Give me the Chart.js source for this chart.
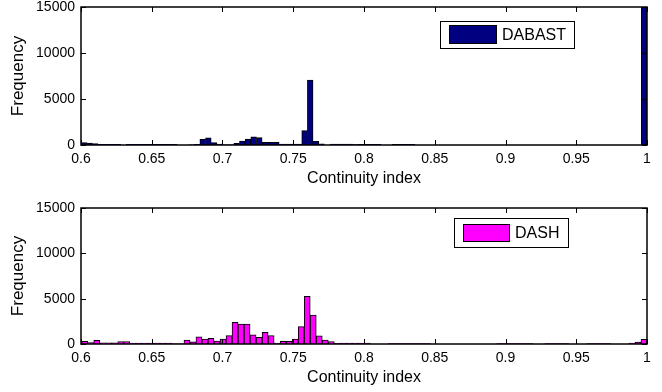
<!DOCTYPE html>
<html>
<head>
<meta charset="utf-8">
<script src="https://cdn.jsdelivr.net/npm/chart.js@4"></script>
<style>
  body { margin: 0; background: #fff; }
  .panel { width: 662px; height: 196px; }
  canvas { display: block; }
</style>
</head>
<body>
<div class="panel"><canvas id="topChart" width="662" height="196"></canvas></div>
<div class="panel"><canvas id="bottomChart" width="662" height="196"></canvas></div>
<script>
// histogram bins
var dabastBinStart = 0.6;
var dabastBinWidth = 0.004;
var dabastCounts = [
  250, 200, 150, 80, 80, 80, 80, 0, 80, 80,
  80, 80, 80, 80, 80, 80, 80, 0, 0, 20,
  70, 620, 780, 250, 100, 20, 20, 180, 430, 650,
  900, 800, 300, 300, 300, 100, 100, 100, 100, 1560,
  7070, 400, 140, 0, 100, 100, 100, 100, 50, 60,
  60, 60, 60, 0, 0, 60, 60, 60, 60, 0,
  0, 0, 0, 0, 0, 0, 0, 0, 0, 0,
  0, 0, 0, 0, 0, 0, 0, 0, 0, 0,
  0, 0, 0, 0, 0, 0, 0, 0, 0, 0,
  0, 0, 0, 0, 0, 0, 0, 0, 0, 15000
];

var dashBinStart = 0.6005;
var dashBinWidth = 0.00425;
var dashCounts = [
  300, 150, 400, 130, 130, 130, 280, 280, 100, 100,
  100, 100, 100, 100, 100, 20, 20, 440, 250, 800,
  550, 630, 330, 550, 920, 2400, 2200, 2200, 1000, 740,
  1300, 920, 110, 300, 300, 550, 1920, 5250, 3200, 900,
  440, 280, 80, 100, 100, 100, 100, 100, 0, 0,
  0, 60, 60, 60, 60, 60, 60, 60, 0, 0,
  0, 0, 0, 0, 0, 0, 0, 0, 0, 60,
  60, 60, 60, 60, 60, 0, 0, 60, 60, 60,
  60, 0, 0, 0, 60, 60, 60, 60, 0, 0,
  0, 100, 200, 520
];

var xTicks = [0.6, 0.65, 0.7, 0.75, 0.8, 0.85, 0.9, 0.95, 1];
var yTicks = [0, 5000, 10000, 15000];

var FONT = "'Liberation Sans', Arial, sans-serif";

function binPoints(start, width, counts) {
  var pts = [];
  for (var i = 0; i < counts.length; i++) {
    pts.push({ x: start + width * (i + 0.5), y: counts[i] });
  }
  return pts;
}

// matlab style box, inward ticks and legend
var matlabAxes = {
  id: 'matlabAxes',
  afterDatasetsDraw: function (chart, args, opts) {
    var ctx = chart.ctx;
    var a = chart.chartArea;
    var xs = chart.scales.x, ys = chart.scales.y;
    ctx.save();
    ctx.strokeStyle = '#000';
    ctx.lineWidth = 1;
    ctx.beginPath();
    xTicks.forEach(function (v) {
      var px = Math.round(xs.getPixelForValue(v)) + 0.5;
      ctx.moveTo(px, a.bottom); ctx.lineTo(px, a.bottom - 5);
      ctx.moveTo(px, a.top); ctx.lineTo(px, a.top + 5);
    });
    yTicks.forEach(function (v) {
      var py = Math.round(ys.getPixelForValue(v)) + 0.5;
      ctx.moveTo(a.left, py); ctx.lineTo(a.left + 5, py);
      ctx.moveTo(a.right, py); ctx.lineTo(a.right - 5, py);
    });
    ctx.stroke();
    ctx.lineWidth = 1.5;
    ctx.strokeRect(a.left, a.top, a.right - a.left, a.bottom - a.top);

    // legend box
    var ds = chart.data.datasets[0];
    var bx = a.left + opts.left, by = a.top + opts.top;
    ctx.fillStyle = '#fff';
    ctx.fillRect(bx, by, opts.width, opts.height);
    ctx.lineWidth = 1;
    ctx.strokeRect(bx + 0.5, by + 0.5, opts.width, opts.height);
    ctx.fillStyle = ds.backgroundColor;
    ctx.fillRect(bx + opts.swX, by + opts.swY, opts.swW, opts.swH);
    ctx.strokeRect(bx + opts.swX + 0.5, by + opts.swY + 0.5, opts.swW, opts.swH);
    ctx.fillStyle = '#000';
    ctx.font = '16px ' + FONT;
    ctx.textBaseline = 'middle';
    ctx.textAlign = 'left';
    ctx.fillText(ds.label, bx + opts.swX + opts.swW + 6, by + opts.height / 2 + 1);
    ctx.restore();
  }
};

function makeChart(id, label, color, start, width, counts, padTop, xHeight, legend) {
  return new Chart(document.getElementById(id), {
    type: 'bar',
    data: {
      datasets: [{
        label: label,
        data: binPoints(start, width, counts),
        backgroundColor: color,
        borderColor: '#000',
        borderWidth: 1,
        barPercentage: 1,
        categoryPercentage: 1
      }]
    },
    options: {
      responsive: false,
      animation: false,
      devicePixelRatio: 1,
      layout: { padding: { top: padTop, right: 15, left: 0, bottom: 0 } },
      plugins: {
        legend: { display: false },
        tooltip: { enabled: false },
        matlabAxes: legend
      },
      scales: {
        x: {
          type: 'linear',
          min: 0.6,
          max: 1,
          offset: false,
          grid: { display: false, drawTicks: false },
          border: { display: false },
          afterBuildTicks: function (s) { s.ticks = xTicks.map(function (v) { return { value: v }; }); },
          afterFit: function (s) { s.height = xHeight; s.paddingLeft = 0; s.paddingRight = 0; },
          ticks: {
            autoSkip: false,
            maxRotation: 0,
            padding: 6,
            color: '#000',
            font: { family: FONT, size: 14 },
            callback: function (v) { return String(+v.toFixed(2)); }
          },
          title: {
            display: true,
            text: 'Continuity index',
            color: '#000',
            font: { family: FONT, size: 16 },
            padding: { top: 0, bottom: xHeight - 34 - 9.6 }
          }
        },
        y: {
          min: 0,
          max: 15000,
          grid: { display: false, drawTicks: false },
          border: { display: false },
          afterBuildTicks: function (s) { s.ticks = yTicks.map(function (v) { return { value: v }; }); },
          afterFit: function (s) { s.width = 81; s.paddingTop = 0; s.paddingBottom = 0; },
          ticks: {
            padding: 6,
            color: '#000',
            font: { family: FONT, size: 14 },
            callback: function (v) { return String(v); }
          },
          title: {
            display: true,
            text: 'Frequency',
            color: '#000',
            font: { family: FONT, size: 17 },
            padding: { top: 8, bottom: 0 }
          }
        }
      }
    },
    plugins: [matlabAxes]
  });
}

makeChart('topChart', 'DABAST', '#000080', dabastBinStart, dabastBinWidth, dabastCounts, 7, 51,
  { left: 359, top: 14, width: 134, height: 27, swX: 9, swY: 4, swW: 47, swH: 18 });
makeChart('bottomChart', 'DASH', '#ff00ff', dashBinStart, dashBinWidth, dashCounts, 12, 48,
  { left: 373, top: 10, width: 114, height: 29, swX: 9, swY: 6, swW: 46, swH: 17 });
</script>
</body>
</html>
